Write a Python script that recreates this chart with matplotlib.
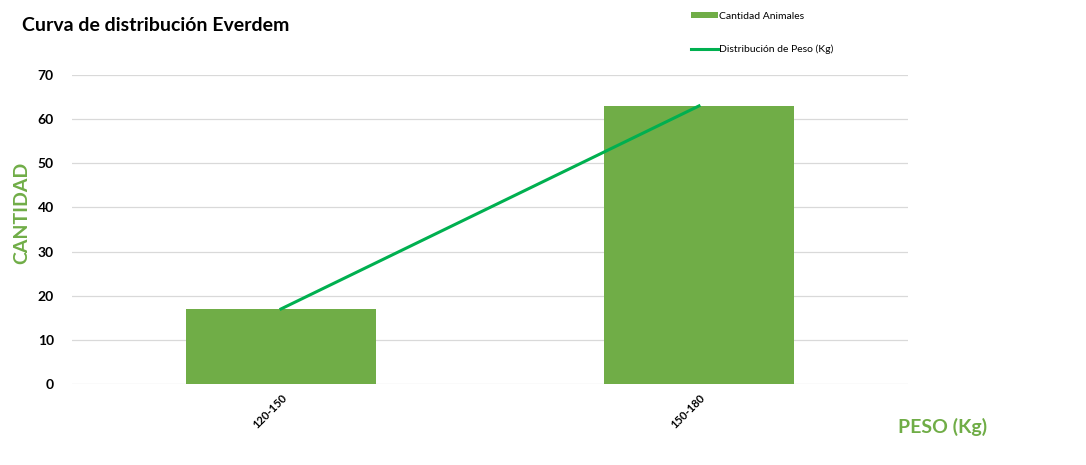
import numpy as np
import matplotlib.pyplot as plt

plt.rcParams['font.family'] = ['Lato', 'DejaVu Sans']

categories = ['120-150', '150-180']
cantidad = [17, 63]
distribucion = [17, 63]

bar_color = '#70AD47'
line_color = '#00B050'

fig = plt.figure(figsize=(10.86, 4.65), dpi=100)
ax = fig.add_axes([0.0663, 0.1742, 0.7698, 0.6645])

x = np.arange(len(categories))
bars = ax.bar(x, cantidad, width=0.455, color=bar_color, label='Cantidad Animales', zorder=2)
line, = ax.plot(x, distribucion, color=line_color, lw=2.2, label='Distribución de Peso (Kg)', zorder=3)

ax.set_xlim(-0.5, 1.5)
ax.set_ylim(0, 70)
ax.set_yticks(range(0, 71, 10))
ax.set_xticks(x)
ax.set_xticklabels(categories, rotation=45, ha='right', rotation_mode='anchor', fontsize=8,
                   fontweight='bold')
for t in ax.get_yticklabels():
    t.set_fontweight('bold')
    t.set_fontsize(10)
ax.grid(axis='y', color='#d9d9d9', lw=0.9, zorder=0)
ax.tick_params(length=0)
ax.tick_params(axis='y', pad=13)
ax.tick_params(axis='x', pad=6)
for s in ax.spines.values():
    s.set_visible(False)

fig.text(0.02, 0.945, 'Curva de distribución Everdem', fontsize=14, fontweight='bold', va='center')
fig.text(0.02, 0.542, 'CANTIDAD', color=bar_color, fontsize=14, fontweight='bold',
         rotation=90, ha='center', va='center')
fig.text(0.827, 0.082, 'PESO (Kg)', color=bar_color, fontsize=14, fontweight='bold', va='center')

ax.legend([bars, line], ['Cantidad Animales', 'Distribución de Peso (Kg)'],
          loc='upper left', bbox_to_anchor=(0.729, 1.235), frameon=False, fontsize=7.5,
          handlelength=2.6, handleheight=0.6, labelspacing=2.3, handletextpad=0.15)

fig.savefig('out.png', dpi=100)
